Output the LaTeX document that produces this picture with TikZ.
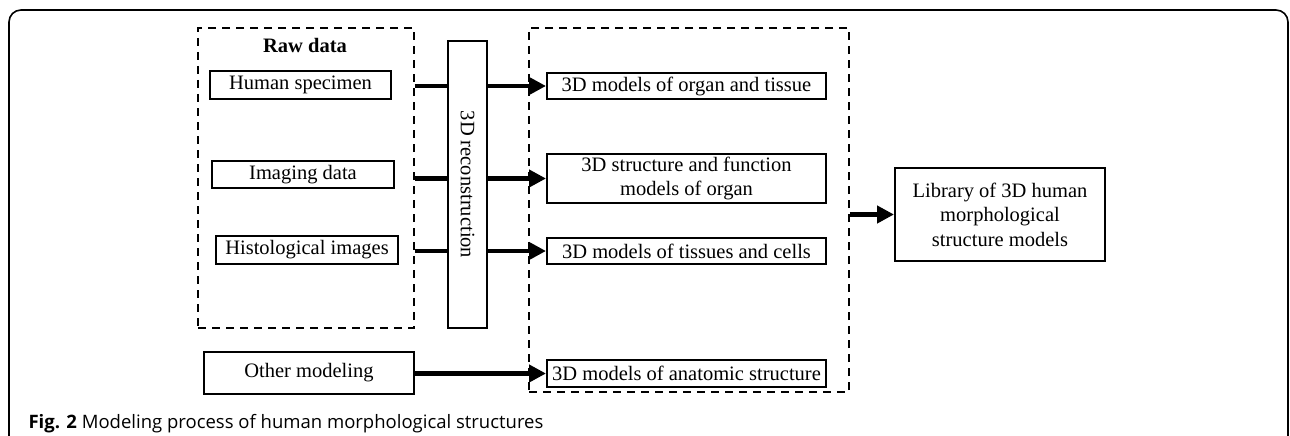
\documentclass[tikz,border=0pt]{standalone}
\usepackage{fontspec}
\setmainfont{Liberation Serif}
\newfontfamily\capfont{Open Sans}
\usetikzlibrary{positioning, arrows.meta}

\begin{document}
\begin{tikzpicture}[
  x=1pt, y=-1pt,
  font=\fontsize{20.5}{24.6}\selectfont,
  box/.style={draw, line width=2pt, inner sep=0pt, align=center},
  dbox/.style={draw, line width=1.8pt, dash pattern=on 8pt off 6pt, inner sep=0pt},
  link/.style={line width=4.5pt},
  harr/.style={line width=4.5pt, -{Triangle[length=17pt, width=17pt]}},
]
\useasboundingbox (0,0) rectangle (1290,436);
\draw[line width=1.6pt, rounded corners=12pt] (9,437) -- (9,10) -- (1288,10) -- (1288,437);

\node[dbox, minimum width=216, minimum height=300] (raw) at (306,178) {};
\node[font=\fontsize{20.5}{24.6}\selectfont\bfseries] (rawlbl) at (305,45) {Raw data};
\node[box, minimum width=181, minimum height=28] (spec) at (300.5,85) {Human specimen};
\node[box, minimum width=182, minimum height=27] (img) at (303,174.5) {Imaging data};
\node[box, minimum width=182, minimum height=28] (histo) at (307,250) {Histological images};
\node[box, minimum width=210, minimum height=42] (other) at (309,373) {Other modeling};

\node[box, minimum width=39, minimum height=287] (recon) at (467.5,184.5) {};
\node[rotate=-90] (reconlbl) at (recon.center) {3D reconstruction};

\node[dbox, minimum width=320, minimum height=364] (mods) at (689,210) {};
\node[box, minimum width=279, minimum height=25] (organ) at (686.5,86) {3D models of organ and tissue};
\node[box, minimum width=279, minimum height=49] (func) at (686.5,178.5) {3D structure and function\\ models of organ};
\node[box, minimum width=279, minimum height=26] (cells) at (686.5,251) {3D models of tissues and cells};
\node[box, minimum width=279, minimum height=27] (anat) at (686.5,373.5) {3D models of anatomic structure};

\node[box, minimum width=210, minimum height=93] (lib) at (1000,214.5) {Library of 3D human\\ morphological\\ structure models};

\draw[link] (raw.east |- organ.west) -- (recon.west |- organ.west);
\draw[link] (raw.east |- func.west) -- (recon.west |- func.west);
\draw[link] (raw.east |- cells.west) -- (recon.west |- cells.west);
\draw[harr] (recon.east |- organ.west) -- (organ.west);
\draw[harr] (recon.east |- func.west) -- (func.west);
\draw[harr] (recon.east |- cells.west) -- (cells.west);
\draw[harr] (other.east |- anat.west) -- (anat.west);
\draw[harr] (mods.east |- lib.west) -- (lib.west);

\node[anchor=base west, font=\capfont\fontsize{18.5}{22}\selectfont] (cap) at (25,428) {\textbf{Fig. 2} Modeling process of human morphological structures};
\end{tikzpicture}
\end{document}
